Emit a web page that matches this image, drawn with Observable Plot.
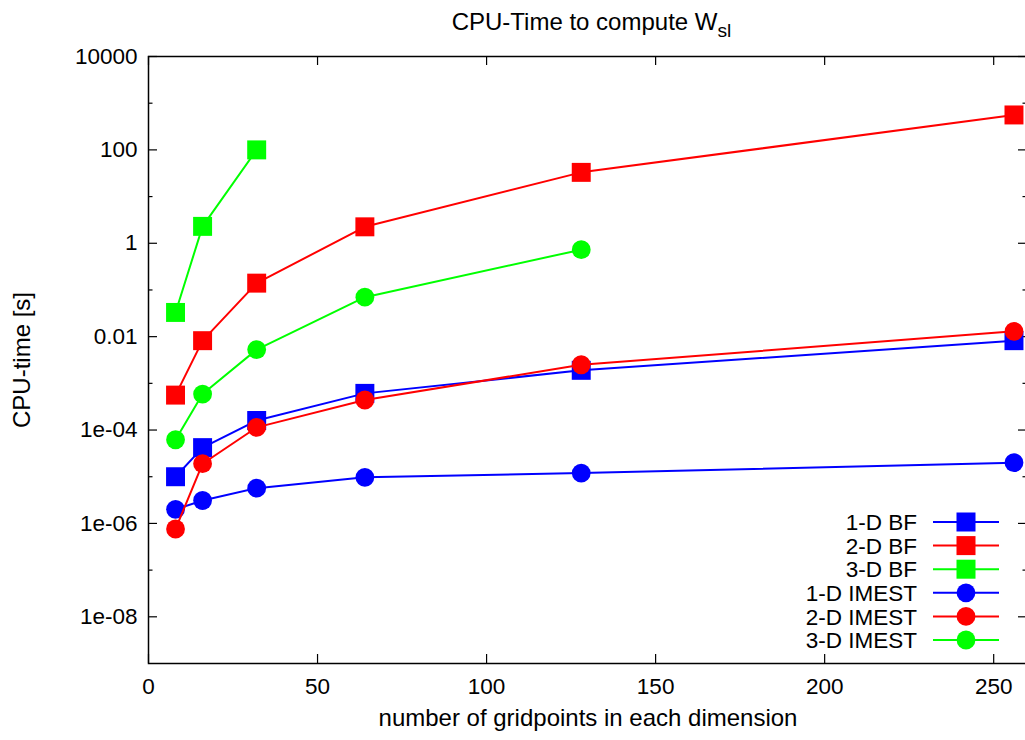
<!DOCTYPE html>
<html><head><meta charset="utf-8">
<script src="https://cdn.jsdelivr.net/npm/d3@7"></script>
<script src="https://cdn.jsdelivr.net/npm/@observablehq/plot@0.6"></script>
<style>
html,body{margin:0;padding:0;background:#fff;overflow:hidden;}
#chart{position:relative;width:1025px;height:740px;overflow:hidden;}
#chart svg{max-width:none !important;}
</style></head><body><div id="chart"></div>
<script>
// ---- data ----
const gridpoints = [8, 16, 32, 64, 128, 256];
const seriesNames = ["1-D BF", "2-D BF", "3-D BF", "1-D IMEST", "2-D IMEST", "3-D IMEST"];
const seriesColors = ["#0000ff", "#ff0000", "#00ff00", "#0000ff", "#ff0000", "#00ff00"];
const seriesSymbols = ["square", "square", "square", "circle", "circle", "circle"];
const bf1d = [1.0e-5, 4.2e-5, 1.6e-4, 6.1e-4, 1.9e-3, 8.2e-3];
const bf2d = [5.6e-4, 8.2e-3, 0.14, 2.25, 33, 560];
const bf3d = [0.033, 2.3, 100];
const imest1d = [2.0e-6, 3.1e-6, 5.7e-6, 9.7e-6, 1.2e-5, 2.0e-5];
const imest2d = [7.6e-7, 1.9e-5, 1.14e-4, 4.4e-4, 2.5e-3, 0.013];
const imest3d = [6.2e-5, 5.9e-4, 5.3e-3, 0.07, 0.73];
const seriesValues = [bf1d, bf2d, bf3d, imest1d, imest2d, imest3d];
const xTickValues = [0, 50, 100, 150, 200, 250];
const yTickValues = [1e4, 1e2, 1, 1e-2, 1e-4, 1e-6, 1e-8];
const yTickLabels = ["10000", "100", "1", "0.01", "1e-04", "1e-06", "1e-08"];
const yMinorTicks = [1e3, 1e1, 1e-1, 1e-3, 1e-5, 1e-7];
const titleMain = "CPU-Time to compute W";
const titleSub = "sl";
const xLabel = "number of gridpoints in each dimension";
const yLabel = "CPU-time [s]";

// ---- layout ----
const W = 1028, H = 740;
const mL = 148, mR = 1, mT = 56, mB = 77;
const fw = W - mL - mR, fh = H - mT - mB;
const FONT = "'Liberation Sans', Arial, Helvetica, sans-serif";
const FS = 22.5;   // tick labels, legend
const FL = 24;     // title, axis labels

const seriesMarks = [];
seriesNames.forEach((name, s) => {
  const rows = seriesValues[s].map((v, i) => ({x: gridpoints[i], y: v}));
  seriesMarks.push(Plot.line(rows, {x: "x", y: "y", stroke: seriesColors[s], strokeWidth: 2}));
  seriesMarks.push(Plot.dot(rows, {x: "x", y: "y", symbol: seriesSymbols[s], fill: seriesColors[s], stroke: "none",
    r: seriesSymbols[s] === "square" ? 10.7 : 9.4}));
});

const plot = Plot.plot({
  width: W, height: H,
  marginLeft: mL, marginRight: mR, marginTop: mT, marginBottom: mB,
  style: {fontFamily: FONT, fontSize: FS + "px", color: "#000", background: "#fff"},
  x: {domain: [0, 260]},
  y: {type: "log", domain: [1e-9, 1e4]},
  marks: [
    // tick marks (inward, mirrored)
    Plot.tickY(yTickValues, {y: d => d, insetRight: fw - 9, stroke: "#000", strokeWidth: 1.2}),
    Plot.tickY(yTickValues, {y: d => d, insetLeft: fw - 9, stroke: "#000", strokeWidth: 1.2}),
    Plot.tickY(yMinorTicks, {y: d => d, insetRight: fw - 4.5, stroke: "#000", strokeWidth: 1.2}),
    Plot.tickY(yMinorTicks, {y: d => d, insetLeft: fw - 4.5, stroke: "#000", strokeWidth: 1.2}),
    Plot.tickX(xTickValues, {x: d => d, insetTop: fh - 9, stroke: "#000", strokeWidth: 1.2}),
    Plot.tickX(xTickValues, {x: d => d, insetBottom: fh - 9, stroke: "#000", strokeWidth: 1.2}),
    Plot.axisY({ticks: yTickValues, tickSize: 0, tickPadding: 11, label: null,
      tickFormat: d => yTickLabels[yTickValues.indexOf(d)], fontSize: FS}),
    Plot.axisX({ticks: xTickValues, tickSize: 0, tickPadding: 15, label: null, tickFormat: d => String(d), fontSize: FS}),
    Plot.text([yLabel], {frameAnchor: "left", rotate: -90, dx: -126, textAnchor: "middle", lineAnchor: "middle",
      fontSize: FL, fill: "#000"}),
    Plot.text([xLabel], {frameAnchor: "bottom", dy: 55, textAnchor: "middle", lineAnchor: "middle",
      fontSize: FL, fill: "#000"}),
    ...seriesMarks,
    Plot.frame({stroke: "#000", strokeWidth: 1.5})
  ]
});

const svg = d3.select(plot);
// title with subscript
const t = svg.append("text")
  .attr("x", mL + fw / 2 + 4).attr("y", 30)
  .attr("text-anchor", "middle")
  .attr("font-family", FONT).attr("font-size", FL).attr("fill", "#000");
t.append("tspan").text(titleMain);
t.append("tspan").attr("dy", 7).attr("font-size", FL * 0.8).text(titleSub);

// legend
const lg = svg.append("g").attr("font-family", FONT).attr("font-size", FS);
const lgTextX = 917, lgLine0 = 933, lgLine1 = 999, lgMark = 966, lgY0 = 522, lgDy = 23.6;
seriesNames.forEach((name, s) => {
  const yy = lgY0 + s * lgDy;
  lg.append("text").attr("x", lgTextX).attr("y", yy).attr("dy", "0.36em")
    .attr("text-anchor", "end").attr("fill", "#000").text(name);
  lg.append("line").attr("x1", lgLine0).attr("x2", lgLine1).attr("y1", yy).attr("y2", yy)
    .attr("stroke", seriesColors[s]).attr("stroke-width", 2);
  if (seriesSymbols[s] === "square") {
    lg.append("rect").attr("x", lgMark - 9.5).attr("y", yy - 9.5).attr("width", 19).attr("height", 19)
      .attr("fill", seriesColors[s]);
  } else {
    lg.append("circle").attr("cx", lgMark).attr("cy", yy).attr("r", 9.4).attr("fill", seriesColors[s]);
  }
});

document.getElementById("chart").appendChild(plot);
</script></body></html>
